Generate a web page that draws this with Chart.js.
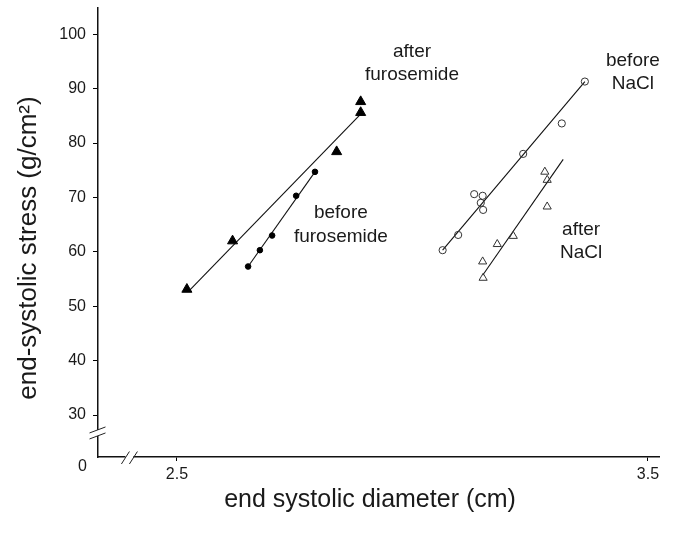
<!DOCTYPE html>
<html>
<head>
<meta charset="utf-8">
<script src="https://cdn.jsdelivr.net/npm/chart.js@4.4.0/dist/chart.umd.min.js"></script>
<style>
    body { margin: 0; background: #fff; }
    canvas { display: block; }
</style>
</head>
<body>
<canvas id="myChart" width="674" height="533"></canvas>
<script>
// Data
const afterFurosemideX = [2.890, 2.890, 2.839, 2.618, 2.521];
const afterFurosemideY = [87.6, 85.6, 78.4, 62.0, 53.1];
const beforeFurosemideX = [2.793, 2.753, 2.702, 2.676, 2.651];
const beforeFurosemideY = [74.7, 70.3, 63.0, 60.3, 57.3];
const beforeNaClX = [3.366, 3.317, 3.235, 3.131, 3.149, 3.145, 3.150, 3.097, 3.064];
const beforeNaClY = [91.3, 83.6, 78.0, 70.6, 70.3, 69.0, 67.7, 63.1, 60.3];
const afterNaClX = [3.281, 3.286, 3.286, 3.214, 3.180, 3.149, 3.150];
const afterNaClY = [74.7, 73.2, 68.3, 62.9, 61.4, 58.2, 55.2];

// regression lines (end points)
const fitAfterFurosemideX = [2.524, 2.892];
const fitAfterFurosemideY = [52.7, 85.5];
const fitBeforeFurosemideX = [2.651, 2.793];
const fitBeforeFurosemideY = [57.3, 74.7];
const fitBeforeNaClX = [3.064, 3.366];
const fitBeforeNaClY = [60.3, 91.3];
const fitAfterNaClX = [3.149, 3.320];
const fitAfterNaClY = [55.7, 77.0];

const xTicks = [2.5, 3.5];
const yTicks = [30, 40, 50, 60, 70, 80, 90, 100];
const yBreakLabel = '0';
const xTitle = 'end systolic diameter (cm)';
const yTitle = 'end-systolic stress (g/cm²)';
const groupLabels = [
    ['after', 'furosemide'],
    ['before', 'furosemide'],
    ['before', 'NaCl'],
    ['after', 'NaCl']
];

const FONT = "'Liberation Sans', Arial, sans-serif";

const toPoints = (xs, ys) => xs.map((x, i) => ({ x: x, y: ys[i] }));

const fitLine = function (xs, ys) {
    return {
        data: toPoints(xs, ys),
        showLine: true,
        borderColor: '#111',
        borderWidth: 1.1,
        pointRadius: 0
    };
};

/*
    Extra drawing: axis breaks, group labels, axis titles
*/
const extras = {
    id: 'extras',
    afterDraw(chart) {
        const ctx = chart.ctx;
        const xs = chart.scales.x;
        const ys = chart.scales.y;
        const area = chart.chartArea;

        ctx.save();

        // y axis break
        const by = ys.getPixelForValue(26.7);
        ctx.fillStyle = '#fff';
        ctx.fillRect(area.left - 2, by - 3, 4, 6);
        ctx.strokeStyle = '#222';
        ctx.lineWidth = 1;
        [-3, 3].forEach(d => {
            ctx.beginPath();
            ctx.moveTo(area.left - 8.5, by + d + 3);
            ctx.lineTo(area.left + 7.5, by + d - 3);
            ctx.stroke();
        });

        // x axis break
        const bx = xs.getPixelForValue(2.399);
        ctx.fillStyle = '#fff';
        ctx.fillRect(bx - 4, area.bottom - 2, 8, 4);
        [-4, 4].forEach(d => {
            ctx.beginPath();
            ctx.moveTo(bx + d - 4, area.bottom + 7);
            ctx.lineTo(bx + d + 4, area.bottom - 5.5);
            ctx.stroke();
        });

        // "0" at the broken corner
        ctx.fillStyle = '#1a1a1a';
        ctx.font = '16px ' + FONT;
        ctx.textAlign = 'right';
        ctx.textBaseline = 'middle';
        ctx.fillText(yBreakLabel, area.left - 11, area.bottom + 10);

        // group labels
        const anchors = [[2.999, 95.9], [2.848, 66.2], [3.468, 94.2], [3.358, 63.1]];
        ctx.font = '19px ' + FONT;
        ctx.textAlign = 'center';
        ctx.textBaseline = 'alphabetic';
        groupLabels.forEach((lines, i) => {
            const px = xs.getPixelForValue(anchors[i][0]);
            const py = ys.getPixelForValue(anchors[i][1]);
            lines.forEach((t, j) => ctx.fillText(t, px, py + j * 23.5));
        });

        // axis titles
        ctx.font = '25px ' + FONT;
        ctx.fillText(xTitle, 370, 507);
        ctx.translate(36, 248);
        ctx.rotate(-Math.PI / 2);
        ctx.font = '26px ' + FONT;
        ctx.fillText(yTitle, 0, 0);

        ctx.restore();
    }
};

const ctx = document.getElementById('myChart').getContext('2d');
const myChart = new Chart(ctx, {
    type: 'scatter',
    data: {
        datasets: [
            {
                label: 'after furosemide',
                data: toPoints(afterFurosemideX, afterFurosemideY),
                pointStyle: 'triangle',
                pointRadius: 5.8,
                backgroundColor: '#000',
                borderColor: '#000',
                borderWidth: 1
            },
            {
                label: 'before furosemide',
                data: toPoints(beforeFurosemideX, beforeFurosemideY),
                pointStyle: 'circle',
                pointRadius: 2.8,
                backgroundColor: '#000',
                borderColor: '#000',
                borderWidth: 1
            },
            {
                label: 'before NaCl',
                data: toPoints(beforeNaClX, beforeNaClY),
                pointStyle: 'circle',
                pointRadius: 3.6,
                backgroundColor: 'rgba(0,0,0,0)',
                borderColor: '#333',
                borderWidth: 1
            },
            {
                label: 'after NaCl',
                data: toPoints(afterNaClX, afterNaClY),
                pointStyle: 'triangle',
                pointRadius: 4.7,
                backgroundColor: 'rgba(0,0,0,0)',
                borderColor: '#333',
                borderWidth: 1
            },
            fitLine(fitAfterFurosemideX, fitAfterFurosemideY),
            fitLine(fitBeforeFurosemideX, fitBeforeFurosemideY),
            fitLine(fitBeforeNaClX, fitBeforeNaClY),
            fitLine(fitAfterNaClX, fitAfterNaClY)
        ]
    },
    options: {
        responsive: false,
        animation: false,
        layout: { padding: { top: 8, right: 15, left: 0, bottom: 0 } },
        plugins: {
            legend: { display: false },
            tooltip: { enabled: false }
        },
        scales: {
            x: {
                type: 'linear',
                min: 2.3323,
                max: 3.5234,
                afterFit: s => {
                    s.height = 76;
                    s.paddingLeft = 0;
                    s.paddingRight = 0;
                },
                afterBuildTicks: s => { s.ticks = xTicks.map(v => ({ value: v })); },
                ticks: {
                    callback: v => v.toFixed(1),
                    font: { family: FONT, size: 16 },
                    color: '#1a1a1a',
                    padding: 4
                },
                grid: { drawOnChartArea: false, tickLength: 4, color: '#000', lineWidth: 1 },
                border: { color: '#111', width: 1.5 }
            },
            y: {
                type: 'linear',
                min: 22.28,
                max: 104.82,
                afterFit: s => {
                    s.width = 98;
                    s.paddingTop = 0;
                    s.paddingBottom = 0;
                },
                afterBuildTicks: s => { s.ticks = yTicks.map(v => ({ value: v })); },
                ticks: {
                    callback: v => String(v),
                    font: { family: FONT, size: 16 },
                    color: '#1a1a1a',
                    padding: 7
                },
                grid: { drawOnChartArea: false, tickLength: 5, color: '#000', lineWidth: 1 },
                border: { color: '#111', width: 1.5 }
            }
        }
    },
    plugins: [extras]
});
</script>
</body>
</html>
